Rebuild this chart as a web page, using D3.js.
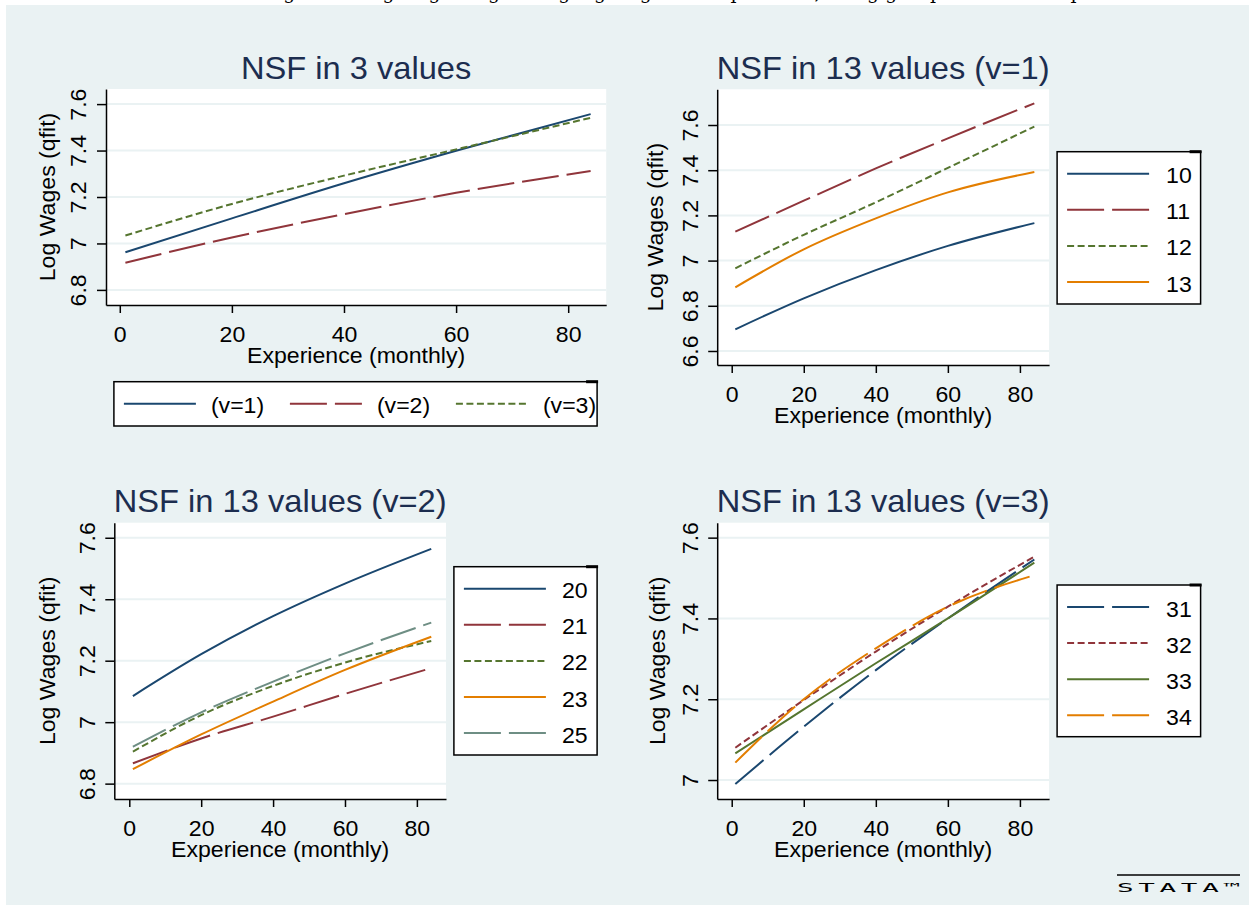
<!DOCTYPE html>
<html>
<head>
<meta charset="utf-8">
<script src="https://cdn.jsdelivr.net/npm/d3@7"></script>
<style>
  body { margin: 0; background: #fff; }
  svg { display: block; }
  text { font-family: "Liberation Sans", Arial, sans-serif; }
</style>
</head>
<body>
<div id="chart"></div>
<script>
// ---- data (experience in months, log wages from qfit) ----
var exper = [1, 20, 40, 60, 84];
var xTicks = [0, 20, 40, 60, 80];

// NSF in 3 values
var nsf3Names = ['(v=1)', '(v=2)', '(v=3)'];
var nsf3V1 = [6.962, 7.108, 7.259, 7.399, 7.557];
var nsf3V2 = [6.917, 7.026, 7.126, 7.218, 7.312];
var nsf3V3 = [7.034, 7.170, 7.292, 7.405, 7.541];
var nsf3YTicks = [6.8, 7, 7.2, 7.4, 7.6];

// NSF in 13 values (v=1)
var v1Names = ['10', '11', '12', '13'];
var v1G10 = [6.696, 6.833, 6.958, 7.065, 7.166];
var v1G11 = [7.128, 7.265, 7.408, 7.541, 7.696];
var v1G12 = [6.966, 7.114, 7.258, 7.410, 7.593];
var v1G13 = [6.882, 7.050, 7.187, 7.302, 7.392];
var v1YTicks = [6.6, 6.8, 7, 7.2, 7.4, 7.6];

// NSF in 13 values (v=2)
var v2Names = ['20', '21', '22', '23', '25'];
var v2G20 = [7.085, 7.221, 7.345, 7.451, 7.564];
var v2G21 = [6.866, 6.947, 7.018, 7.092, 7.176];
var v2G22 = [6.904, 7.023, 7.118, 7.194, 7.264];
var v2G23 = [6.847, 6.960, 7.067, 7.170, 7.278];
var v2G25 = [6.920, 7.032, 7.132, 7.224, 7.324];
var v2YTicks = [6.8, 7, 7.2, 7.4, 7.6];

// NSF in 13 values (v=3)
var v3Names = ['31', '32', '33', '34'];
var v3G31 = [6.990, 7.132, 7.272, 7.400, 7.546];
var v3G32 = [7.080, 7.198, 7.318, 7.429, 7.553];
var v3G33 = [7.066, 7.175, 7.289, 7.400, 7.538];
var v3G34 = [7.043, 7.200, 7.326, 7.429, 7.507];
var v3YTicks = [7, 7.2, 7.4, 7.6];

// Stata s2color styles
var navy = '#1a476f', maroon = '#90353b', green = '#55752f', orange = '#e37e00', teal = '#6e8e84';
var solid = null, longDash = '37,8', shortDash = '7,3.5';
var bg = '#eaf2f3';

var svg = d3.select('#chart')
    .append('svg')
    .attr('width', 1250)
    .attr('height', 905);

// page background + cut caption strip on top
svg.append('rect').attr('x', 0).attr('y', 0).attr('width', 1250).attr('height', 905).attr('fill', '#fff');
svg.append('rect').attr('x', 6).attr('y', 5).attr('width', 1243).attr('height', 900).attr('fill', bg);
svg.append('text')
    .attr('x', 264).attr('y', -1.5)
    .style('font-family', '"DejaVu Serif", "Liberation Serif", serif')
    .style('font-size', '19px')
    .text('Figure 6: Log wages regressing log wages on experience, using groups of NSF sample');

// text helper (Stata's Helvetica runs a bit wider than Arial)
function label(g, x, y, s, o) {
    o = o || {};
    return g.append('text')
        .attr('transform', 'translate(' + x + ',' + y + ')' + (o.rot ? ' rotate(-90)' : '') + ' scale(' + (o.sx || 1.05) + ',1)')
        .attr('text-anchor', o.anchor || 'middle')
        .style('font-size', (o.size || 22) + 'px')
        .attr('fill', o.fill || '#000')
        .text(s);
}

function drawPanel(p) {
    var g = svg.append('g');
    var x = d3.scaleLinear().domain(p.xDomain).range([p.left, p.right]);
    var y = d3.scaleLinear().domain(p.yDomain).range([p.bottom, p.top]);

    // plot region
    g.append('rect')
        .attr('x', p.left).attr('y', p.top)
        .attr('width', p.right - p.left).attr('height', p.bottom - p.top)
        .attr('fill', '#fff');

    // gridlines
    g.selectAll('.grid')
        .data(p.yTicks)
        .enter()
        .append('line')
        .attr('x1', p.left).attr('x2', p.right)
        .attr('y1', function (d) { return y(d); })
        .attr('y2', function (d) { return y(d); })
        .attr('stroke', bg)
        .attr('stroke-width', 2);

    // fitted lines
    var line = d3.line()
        .x(function (d, i) { return x(exper[i]); })
        .y(function (d) { return y(d); })
        .curve(d3.curveMonotoneX);

    p.series.forEach(function (s) {
        g.append('path')
            .attr('d', line(s.values))
            .attr('fill', 'none')
            .attr('stroke', s.color)
            .attr('stroke-width', 2)
            .attr('stroke-dasharray', s.dash);
    });

    // axes
    var xAxis = g.append('g')
        .attr('transform', 'translate(0,' + p.bottom + ')')
        .call(d3.axisBottom(x).tickValues(xTicks).tickSize(8).tickSizeOuter(0).tickFormat(d3.format('')));
    xAxis.selectAll('text')
        .attr('y', null).attr('dy', null)
        .attr('transform', 'translate(0,37) scale(1.05,1)')
        .style('font-size', '22px')
        .attr('fill', '#000');

    var yAxis = g.append('g')
        .attr('transform', 'translate(' + p.left + ',0)')
        .call(d3.axisLeft(y).tickValues(p.yTicks).tickSize(9).tickSizeOuter(0).tickFormat(d3.format('')));
    yAxis.selectAll('text')
        .attr('x', null).attr('dy', null)
        .attr('text-anchor', 'middle')
        .attr('transform', 'translate(' + (-p.yTickOff) + ',0) rotate(-90) scale(1.05,1)')
        .style('font-size', '22px')
        .attr('fill', '#000');

    [xAxis, yAxis].forEach(function (a) {
        a.select('.domain').attr('stroke', '#000').attr('stroke-width', 1.5);
        a.selectAll('.tick line').attr('stroke', '#000').attr('stroke-width', 1.5);
    });

    // titles
    var cx = (p.left + p.right) / 2, cy = (p.top + p.bottom) / 2;
    label(g, cx, p.titleY, p.title, { size: 32, sx: 1.02, fill: '#1c2d4f' });
    label(g, cx, p.bottom + 58, 'Experience (monthly)');
    label(g, p.left - p.yTitleOff, cy, 'Log Wages (qfit)', { rot: true });

    // legend
    var L = p.legend;
    g.append('rect')
        .attr('x', L.x).attr('y', L.y).attr('width', L.w).attr('height', L.h)
        .attr('fill', '#fff').attr('stroke', '#000').attr('stroke-width', 1.5);
    g.append('rect')
        .attr('x', L.x + L.w - 11).attr('y', L.y - 1.5).attr('width', 12).attr('height', 3)
        .attr('fill', '#000');

    p.series.forEach(function (s, i) {
        var lx, ly;
        if (L.horizontal) { lx = L.x + 10 + i * 166; ly = L.y + L.h / 2; }
        else { lx = L.x + 10; ly = L.y + 22 + i * 36.1; }
        g.append('line')
            .attr('x1', lx).attr('x2', lx + L.lineLen)
            .attr('y1', ly).attr('y2', ly)
            .attr('stroke', s.color)
            .attr('stroke-width', 2)
            .attr('stroke-dasharray', s.dash);
        label(g, lx + L.textOff, ly + 9.5, s.name, { anchor: 'start' });
    });
}

drawPanel({
    title: 'NSF in 3 values', titleY: 79.3,
    left: 106, right: 606.2, top: 89, bottom: 305,
    xDomain: [-2.46, 86.78], yDomain: [6.735, 7.665], yTicks: nsf3YTicks,
    yTickOff: 19.8, yTitleOff: 50.6,
    series: [
        { name: nsf3Names[0], values: nsf3V1, color: navy, dash: solid },
        { name: nsf3Names[1], values: nsf3V2, color: maroon, dash: longDash },
        { name: nsf3Names[2], values: nsf3V3, color: green, dash: shortDash }
    ],
    legend: { x: 113.9, y: 381.7, w: 483.2, h: 44.3, horizontal: true, lineLen: 72, textOff: 87 }
});

drawPanel({
    title: 'NSF in 13 values (v=1)', titleY: 79.3,
    left: 717.2, right: 1049.1, top: 89.3, bottom: 365,
    xDomain: [-4.03, 88.1], yDomain: [6.538, 7.758], yTicks: v1YTicks,
    yTickOff: 18.9, yTitleOff: 54.2,
    series: [
        { name: v1Names[0], values: v1G10, color: navy, dash: solid },
        { name: v1Names[1], values: v1G11, color: maroon, dash: longDash },
        { name: v1Names[2], values: v1G12, color: green, dash: shortDash },
        { name: v1Names[3], values: v1G13, color: orange, dash: solid }
    ],
    legend: { x: 1057.1, y: 151.7, w: 143.5, h: 152.3, lineLen: 82, textOff: 99 }
});

drawPanel({
    title: 'NSF in 13 values (v=2)', titleY: 511.7,
    left: 114.3, right: 446, top: 522.7, bottom: 799,
    xDomain: [-4.17, 88.1], yDomain: [6.750, 7.649], yTicks: v2YTicks,
    yTickOff: 19.4, yTitleOff: 59.7,
    series: [
        { name: v2Names[0], values: v2G20, color: navy, dash: solid },
        { name: v2Names[1], values: v2G21, color: maroon, dash: longDash },
        { name: v2Names[2], values: v2G22, color: green, dash: shortDash },
        { name: v2Names[3], values: v2G23, color: orange, dash: solid },
        { name: v2Names[4], values: v2G25, color: teal, dash: longDash }
    ],
    legend: { x: 453.9, y: 566.7, w: 143.2, h: 188.3, lineLen: 82, textOff: 98 }
});

drawPanel({
    title: 'NSF in 13 values (v=3)', titleY: 511.7,
    left: 717.2, right: 1049.1, top: 522.7, bottom: 799,
    xDomain: [-4.03, 88.1], yDomain: [6.953, 7.637], yTicks: v3YTicks,
    yTickOff: 18.9, yTitleOff: 52.2,
    series: [
        { name: v3Names[0], values: v3G31, color: navy, dash: longDash },
        { name: v3Names[1], values: v3G32, color: maroon, dash: shortDash },
        { name: v3Names[2], values: v3G33, color: green, dash: solid },
        { name: v3Names[3], values: v3G34, color: orange, dash: longDash }
    ],
    legend: { x: 1057.1, y: 585, w: 143.5, h: 151.7, lineLen: 82, textOff: 99 }
});

// Stata wordmark
svg.append('line')
    .attr('x1', 1117).attr('x2', 1240).attr('y1', 875).attr('y2', 875)
    .attr('stroke', '#000').attr('stroke-width', 1.5);
svg.append('g')
    .attr('transform', 'translate(1117,892) scale(2.3,1)')
    .append('text')
    .attr('x', 0).attr('y', 0)
    .attr('textLength', 53.5).attr('lengthAdjust', 'spacing')
    .style('font-family', '"DejaVu Sans Mono", monospace')
    .style('font-size', '12px')
    .text('STATA™');
</script>
</body>
</html>
